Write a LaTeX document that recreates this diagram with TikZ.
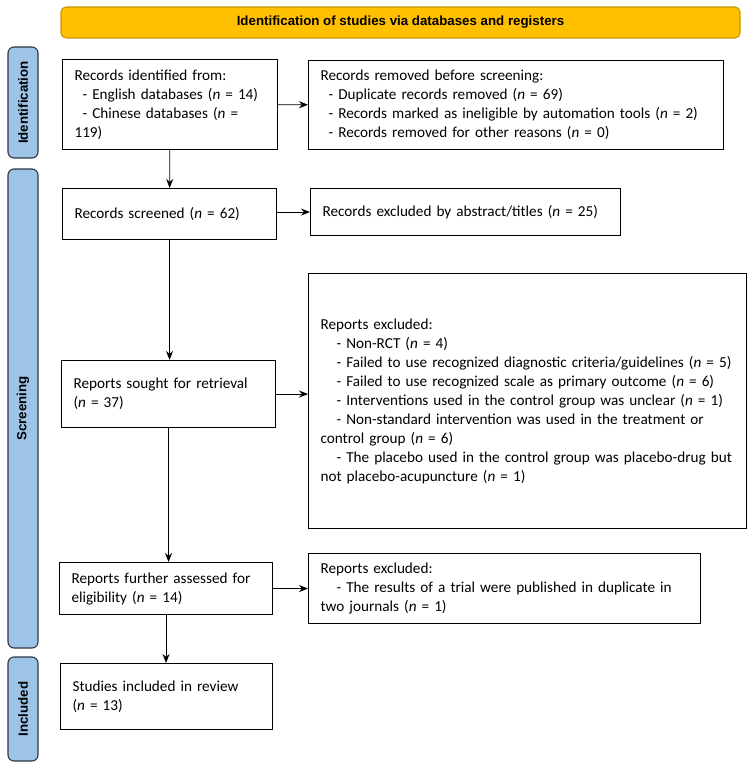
\documentclass[tikz,border=0pt]{standalone}
\usepackage{fontspec}
\setmainfont{Carlito}
\newfontfamily\headfont{Liberation Sans}
\usetikzlibrary{arrows.meta}
\definecolor{bannerfill}{RGB}{255,192,0}
\definecolor{bannerdraw}{RGB}{200,150,10}
\definecolor{barfill}{RGB}{157,195,230}
\definecolor{bardraw}{RGB}{45,55,70}
\tikzset{
	box/.style={draw, line width=1.1pt, anchor=north west, align=left, inner xsep=12pt, inner ysep=0pt, font=\fontsize{15.2}{19}\selectfont},
	bar/.style={draw=bardraw, fill=barfill, line width=1.1pt, rounded corners=6pt, rotate=90, minimum height=30pt, inner sep=0pt, font=\headfont\bfseries\fontsize{13.3}{16}\selectfont},
	arr/.style={-{Stealth[length=9pt, width=7pt]}, line width=0.8pt}
}

\begin{document}
\begin{tikzpicture}[x=1pt, y=-1pt]
			\useasboundingbox (0,0) rectangle (750,767);
			% banner and phases
			\node[draw=bannerdraw, fill=bannerfill, line width=1.1pt, rounded corners=5pt, minimum width=679pt, minimum height=31pt, font=\headfont\bfseries\fontsize{13.3}{16}\selectfont] at(400.5,22.5) (head) {Identification of studies via databases and registers};
			\node[bar, minimum width=111pt] at(23,102.5) (sideid) {Identification};
			\node[bar, minimum width=479pt] at(23,408.5) (sidescr) {Screening};
			\node[bar, minimum width=104pt] at(23,709) (sideinc) {Included};
			
			% left column
			\node[box, text width=191pt, minimum height=90pt] at(62,59) (idn) {Records identified from:\\\hspace*{8pt}- English databases (\textit{n} = 14)\\\hspace*{8pt}- Chinese databases (\textit{n} =\\119)};
			\node[box, text width=190pt, minimum height=51pt] at(62,188) (scr) {Records screened (\textit{n} = 62)};
			\node[box, text width=190pt, minimum height=67pt] at(61,360) (rpt) {Reports sought for retrieval\\(\textit{n} = 37)};
			\node[box, text width=189pt, minimum height=52pt] at(59,562) (ass) {Reports further assessed for\\eligibility (\textit{n} = 14)};
			\node[box, text width=188pt, minimum height=66pt] at(60,663) (inc) {Studies included in review\\(\textit{n} = 13)};
			
			% right column
			\node[box, text width=391pt, minimum height=89pt] at(308,60) (rmv) {Records removed before screening:\\\hspace*{8pt}- Duplicate records removed (\textit{n} = 69)\\\hspace*{8pt}- Records marked as ineligible by automation tools (\textit{n} = 2)\\\hspace*{8pt}- Records removed for other reasons (\textit{n} = 0)};
			\node[box, text width=286pt, minimum height=47pt] at(310,188) (exc) {Records excluded by abstract/titles (\textit{n} = 25)};
			\node[box, text width=414pt, minimum height=255pt] at(308,273) (rex) {Reports excluded:\\\hspace*{16pt}- Non-RCT (\textit{n} = 4)\\\hspace*{16pt}\mbox{- Failed to use recognized diagnostic criteria/guidelines (\textit{n} = 5)}\\\hspace*{16pt}- Failed to use recognized scale as primary outcome (\textit{n} = 6)\\\hspace*{16pt}- Interventions used in the control group was unclear (\textit{n} = 1)\\\hspace*{16pt}- Non-standard intervention was used in the treatment or\\control group (\textit{n} = 6)\\\hspace*{16pt}\mbox{- The placebo used in the control group was placebo-drug but}\\not placebo-acupuncture (\textit{n} = 1)};
			\node[box, text width=368pt, minimum height=70pt] at(308,553) (aex) {Reports excluded:\\\hspace*{16pt}- The results of a trial were published in duplicate in\\two journals (\textit{n} = 1)};
			
			\draw[arr] (idn) -- (rmv);
			\draw[arr] (idn) -- (scr);
			\draw[arr] (scr.east |- exc.west) -- (exc.west);
			\draw[arr] (scr.south) -- (scr.south |- rpt.north);
			\draw[arr] (rpt.east) -- (rpt.east -| rex.west);
			\draw[arr] (rpt.south) -- (rpt.south |- ass.north);
			\draw[arr] (ass) -- (aex);
			\draw[arr] (ass.south) -- (ass.south |- inc.north);
\end{tikzpicture}
\end{document}
